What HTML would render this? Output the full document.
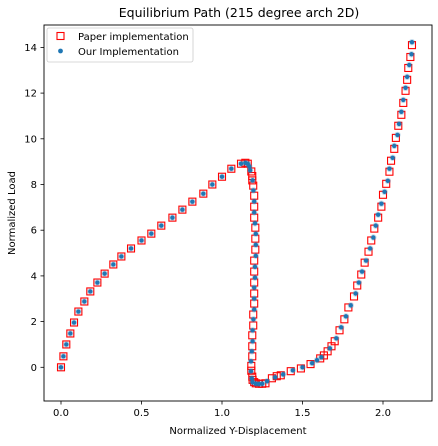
<!DOCTYPE html>
<html><head><meta charset="utf-8"><style>
body{margin:0;background:#fff;font-family:"Liberation Sans","DejaVu Sans",sans-serif}
svg text{font-family:"DejaVu Sans","Liberation Sans",sans-serif}
</style></head><body>
<svg id="chart" width="438" height="441" xmlns="http://www.w3.org/2000/svg">
<text x="239" y="17" text-anchor="middle" font-size="12.5">Equilibrium Path (215 degree arch 2D)</text>
<g id="ticks"></g>
<g id="marks"></g>
<rect x="44" y="25" width="388" height="376" fill="none" stroke="#000" stroke-width="0.9"/>
<text x="238" y="434" text-anchor="middle" font-size="10">Normalized Y-Displacement</text>
<text x="15" y="213" text-anchor="middle" font-size="10" transform="rotate(-90 15 213)">Normalized Load</text>
<g>
<rect x="47" y="28" width="146" height="34" rx="2" fill="#fff" fill-opacity="0.8" stroke="#ccc" stroke-width="0.8"/>
<g><rect x="57" y="32.5" width="7" height="7" fill="none" stroke="red" stroke-width="1.1"/><text x="78" y="40" font-size="10">Paper implementation</text></g>
<g><circle cx="60.5" cy="51" r="2.4" fill="#1f77b4"/><text x="78" y="55" font-size="10">Our Implementation</text></g>
</g>
</svg>
<script>
const xTicks=[0,0.5,1.0,1.5,2.0];
const xTickLabels=["0.0","0.5","1.0","1.5","2.0"];
const yTicks=[0,2,4,6,8,10,12,14];
const yTickLabels=["0","2","4","6","8","10","12","14"];
const paperX=[0,0.015,0.033,0.058,0.081,0.108,0.145,0.182,0.226,0.271,0.325,0.375,0.435,0.5,0.561,0.623,0.692,0.754,0.816,0.884,0.94,1.0,1.058,1.118,1.145,1.16,
1.182,1.188,1.188,1.194,1.2,1.2,1.2,1.207,1.207,1.207,1.2,1.2,1.2,1.2,1.2,1.194,1.194,1.188,1.188,1.188,1.182,1.182,1.188,1.19,1.2,1.21,1.23,1.25,1.27,
1.31,1.34,1.365,1.427,1.49,1.55,1.61,1.633,1.656,1.68,1.70,1.73,1.76,1.785,1.82,1.84,1.865,1.886,1.91,1.927,1.946,1.97,1.99,2.0,2.02,2.04,2.05,2.07,2.08,2.095,2.114,2.126,2.14,2.15,2.157,2.17,2.18];
const paperY=[0,0.48,1.0,1.48,1.96,2.44,2.88,3.32,3.71,4.10,4.50,4.85,5.2,5.55,5.85,6.2,6.55,6.9,7.25,7.6,8.0,8.34,8.69,8.91,8.95,8.91,
8.57,8.37,8.18,7.95,7.51,7.03,6.55,6.11,5.63,5.15,4.67,4.19,3.71,3.23,2.79,2.31,1.83,1.40,0.92,0.48,0.06,-0.15,-0.41,-0.55,-0.65,-0.70,-0.72,-0.72,-0.70,
-0.48,-0.39,-0.35,-0.17,-0.05,0.14,0.39,0.52,0.70,0.92,1.14,1.62,2.10,2.62,3.1,3.58,4.06,4.58,5.06,5.55,6.07,6.55,7.03,7.55,8.03,8.56,9.04,9.56,10.04,10.57,11.05,11.57,12.1,12.58,13.1,13.58,14.1];
const oursX=[0,0.015,0.033,0.058,0.081,0.108,0.145,0.182,0.226,0.271,0.325,0.375,0.435,0.5,0.561,0.623,0.692,0.754,0.816,0.884,0.94,1.0,1.058,1.118,1.145,1.16,
1.17,1.175,1.19,1.195,1.2,1.2,1.205,1.21,1.21,1.21,1.205,1.205,1.2,1.2,1.2,1.195,1.19,1.19,1.185,1.18,1.18,1.185,1.19,1.21,1.23,1.25,
1.28,1.33,1.38,1.44,1.50,1.56,1.59,1.617,1.67,1.71,1.74,1.77,1.80,1.83,1.85,1.87,1.895,1.92,1.94,1.955,1.97,1.99,2.01,2.03,2.04,2.06,2.07,2.09,2.10,2.114,2.126,2.14,2.15,2.163,2.177,2.18];
const oursY=[0,0.48,1.0,1.48,1.96,2.44,2.88,3.32,3.71,4.10,4.50,4.85,5.2,5.55,5.85,6.2,6.55,6.9,7.25,7.6,8.0,8.34,8.69,8.91,8.95,8.91,
8.79,8.62,8.18,7.74,7.26,6.78,6.30,5.84,5.36,4.88,4.40,3.92,3.49,3.01,2.53,2.10,1.62,1.14,0.70,0.26,-0.17,-0.48,-0.65,-0.72,-0.73,-0.72,
-0.61,-0.44,-0.31,-0.13,0.0,0.18,0.31,0.44,0.83,1.27,1.75,2.23,2.71,3.23,3.71,4.19,4.67,5.2,5.68,6.2,6.68,7.16,7.68,8.16,8.69,9.17,9.69,10.17,10.65,11.18,11.7,12.23,12.71,13.23,13.7,14.23];
const NS="http://www.w3.org/2000/svg";
function sx(v){return 61+v*161;}
function sy(v){return 367.3-v*22.85;}
function mk(tag,attrs,parent){const e=document.createElementNS(NS,tag);for(const k in attrs)e.setAttribute(k,attrs[k]);parent.appendChild(e);return e;}
const tg=document.getElementById('ticks');
xTicks.forEach((t,i)=>{
 const l=mk('line',{x1:sx(t),x2:sx(t),y1:401,y2:404.5,stroke:'#000','stroke-width':0.8},tg);
 
 
 const tx=mk('text',{x:sx(t),y:416,'text-anchor':'middle','font-size':10},tg);tx.textContent=xTickLabels[i];
 
 
});
yTicks.forEach((t,i)=>{
 const l=mk('line',{x1:40.5,x2:44,y1:sy(t),y2:sy(t),stroke:'#000','stroke-width':0.8},tg);
 
 
 const tx=mk('text',{x:37,y:sy(t)+3.5,'text-anchor':'end','font-size':10},tg);tx.textContent=yTickLabels[i];
 
 
});
const mg=document.getElementById('marks');
paperX.forEach((x,i)=>{
 const r=mk('rect',{x:sx(x)-3.5,y:sy(paperY[i])-3.5,width:7,height:7,fill:'none',stroke:'red','stroke-width':1.1},mg);
 
 
});
oursX.forEach((x,i)=>{
 mk('circle',{cx:sx(x),cy:sy(oursY[i]),r:3.2,fill:'#1f77b4','fill-opacity':0.25},mg);
 const c=mk('circle',{cx:sx(x),cy:sy(oursY[i]),r:2.2,fill:'#1f77b4'},mg);
 
 
});
</script>
</body></html>
